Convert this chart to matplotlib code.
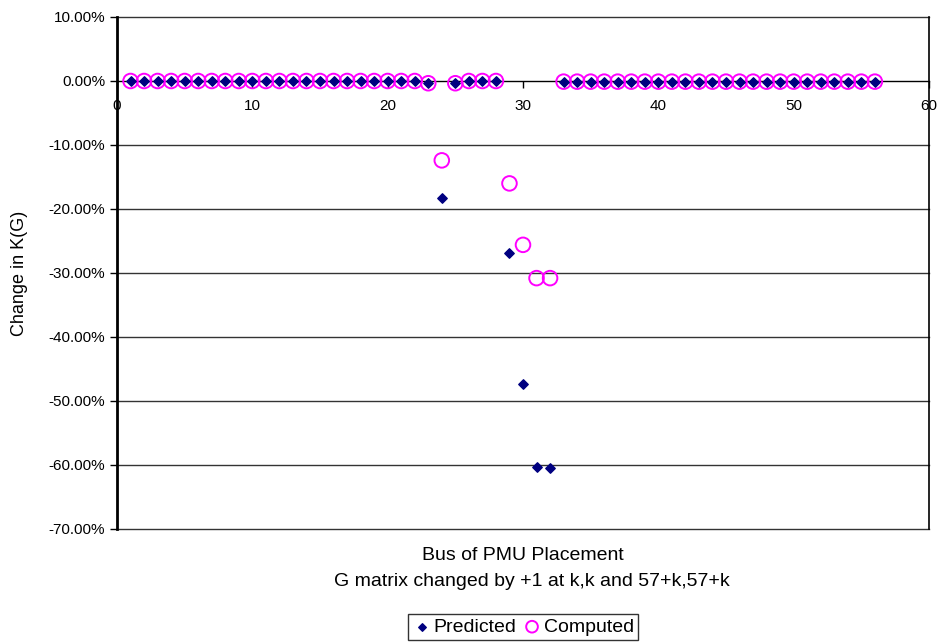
import matplotlib
matplotlib.use("Agg")
import matplotlib.pyplot as plt
from matplotlib.ticker import FuncFormatter

plt.rcParams['font.family'] = ['Liberation Sans', 'DejaVu Sans']

# Bus index of PMU placement
buses = list(range(1, 57))

# Change in condition number K(G), percent
predicted = ([0.0] * 22 + [-0.35, -18.3, -0.35, 0.0, 0.0, 0.0,
             -26.8, -47.4, -60.3, -60.5] + [-0.1] * 24)
computed = ([0.0] * 22 + [-0.35, -12.4, -0.35, 0.0, 0.0, 0.0,
            -16.0, -25.6, -30.8, -30.8] + [-0.1] * 24)

y_ticks = [10, 0, -10, -20, -30, -40, -50, -60, -70]
x_ticks = [0, 10, 20, 30, 40, 50, 60]

fig = plt.figure(figsize=(9.42, 6.42), dpi=100)
ax = fig.add_axes([117 / 942, 1 - 529 / 642, (929 - 117) / 942, (529 - 17) / 642])

ax.scatter(buses, computed, s=10.5 ** 2, facecolors='none', edgecolors='#FF00FF',
           linewidths=1.4, label='Computed', zorder=3)
ax.scatter(buses, predicted, s=4.8 ** 2, marker='D', color='#000080',
           label='Predicted', zorder=4)

ax.set_xlim(0, 60)
ax.set_ylim(-70, 10)
ax.set_yticks(y_ticks)
ax.set_xticks(x_ticks)
ax.yaxis.set_major_formatter(FuncFormatter(lambda v, p: f"{v:.2f}%"))

# horizontal gridlines, including the ones on the plot edges
for v in y_ticks:
    if v != 0:
        ax.axhline(v, color='#333333', linewidth=1.0, zorder=1, clip_on=False)

# x axis crosses at zero
ax.spines['bottom'].set_position(('data', 0))
ax.spines['bottom'].set_linewidth(1.0)
ax.spines['top'].set_visible(False)
ax.spines['left'].set_linewidth(2.0)
ax.spines['right'].set_linewidth(1.2)
ax.tick_params(axis='both', direction='out', length=5, width=1, labelsize=11,
               colors='black')
ax.tick_params(axis='x', pad=8)

ax.set_ylabel('Change in K(G)', fontsize=13)
ax.yaxis.set_label_coords((28 - 117) / 812, 0.5)

fig.text(523 / 942, 1 - 556 / 642, 'Bus of PMU Placement', ha='center',
         va='center', fontsize=14)
fig.text(532 / 942, 1 - 581 / 642, 'G matrix changed by +1 at k,k and 57+k,57+k',
         ha='center', va='center', fontsize=14)

handles, labels = ax.get_legend_handles_labels()
order = [1, 0]
leg = fig.legend([handles[i] for i in order], [labels[i] for i in order],
                 loc='center', bbox_to_anchor=(523 / 942, 1 - 627 / 642),
                 ncol=2, fontsize=14, frameon=True, fancybox=False,
                 edgecolor='black', handletextpad=0.1, columnspacing=0.3,
                 handlelength=1.0, borderpad=0.2, markerscale=0.8)
leg.get_frame().set_linewidth(1.0)

fig.savefig('out.png', dpi=100)
